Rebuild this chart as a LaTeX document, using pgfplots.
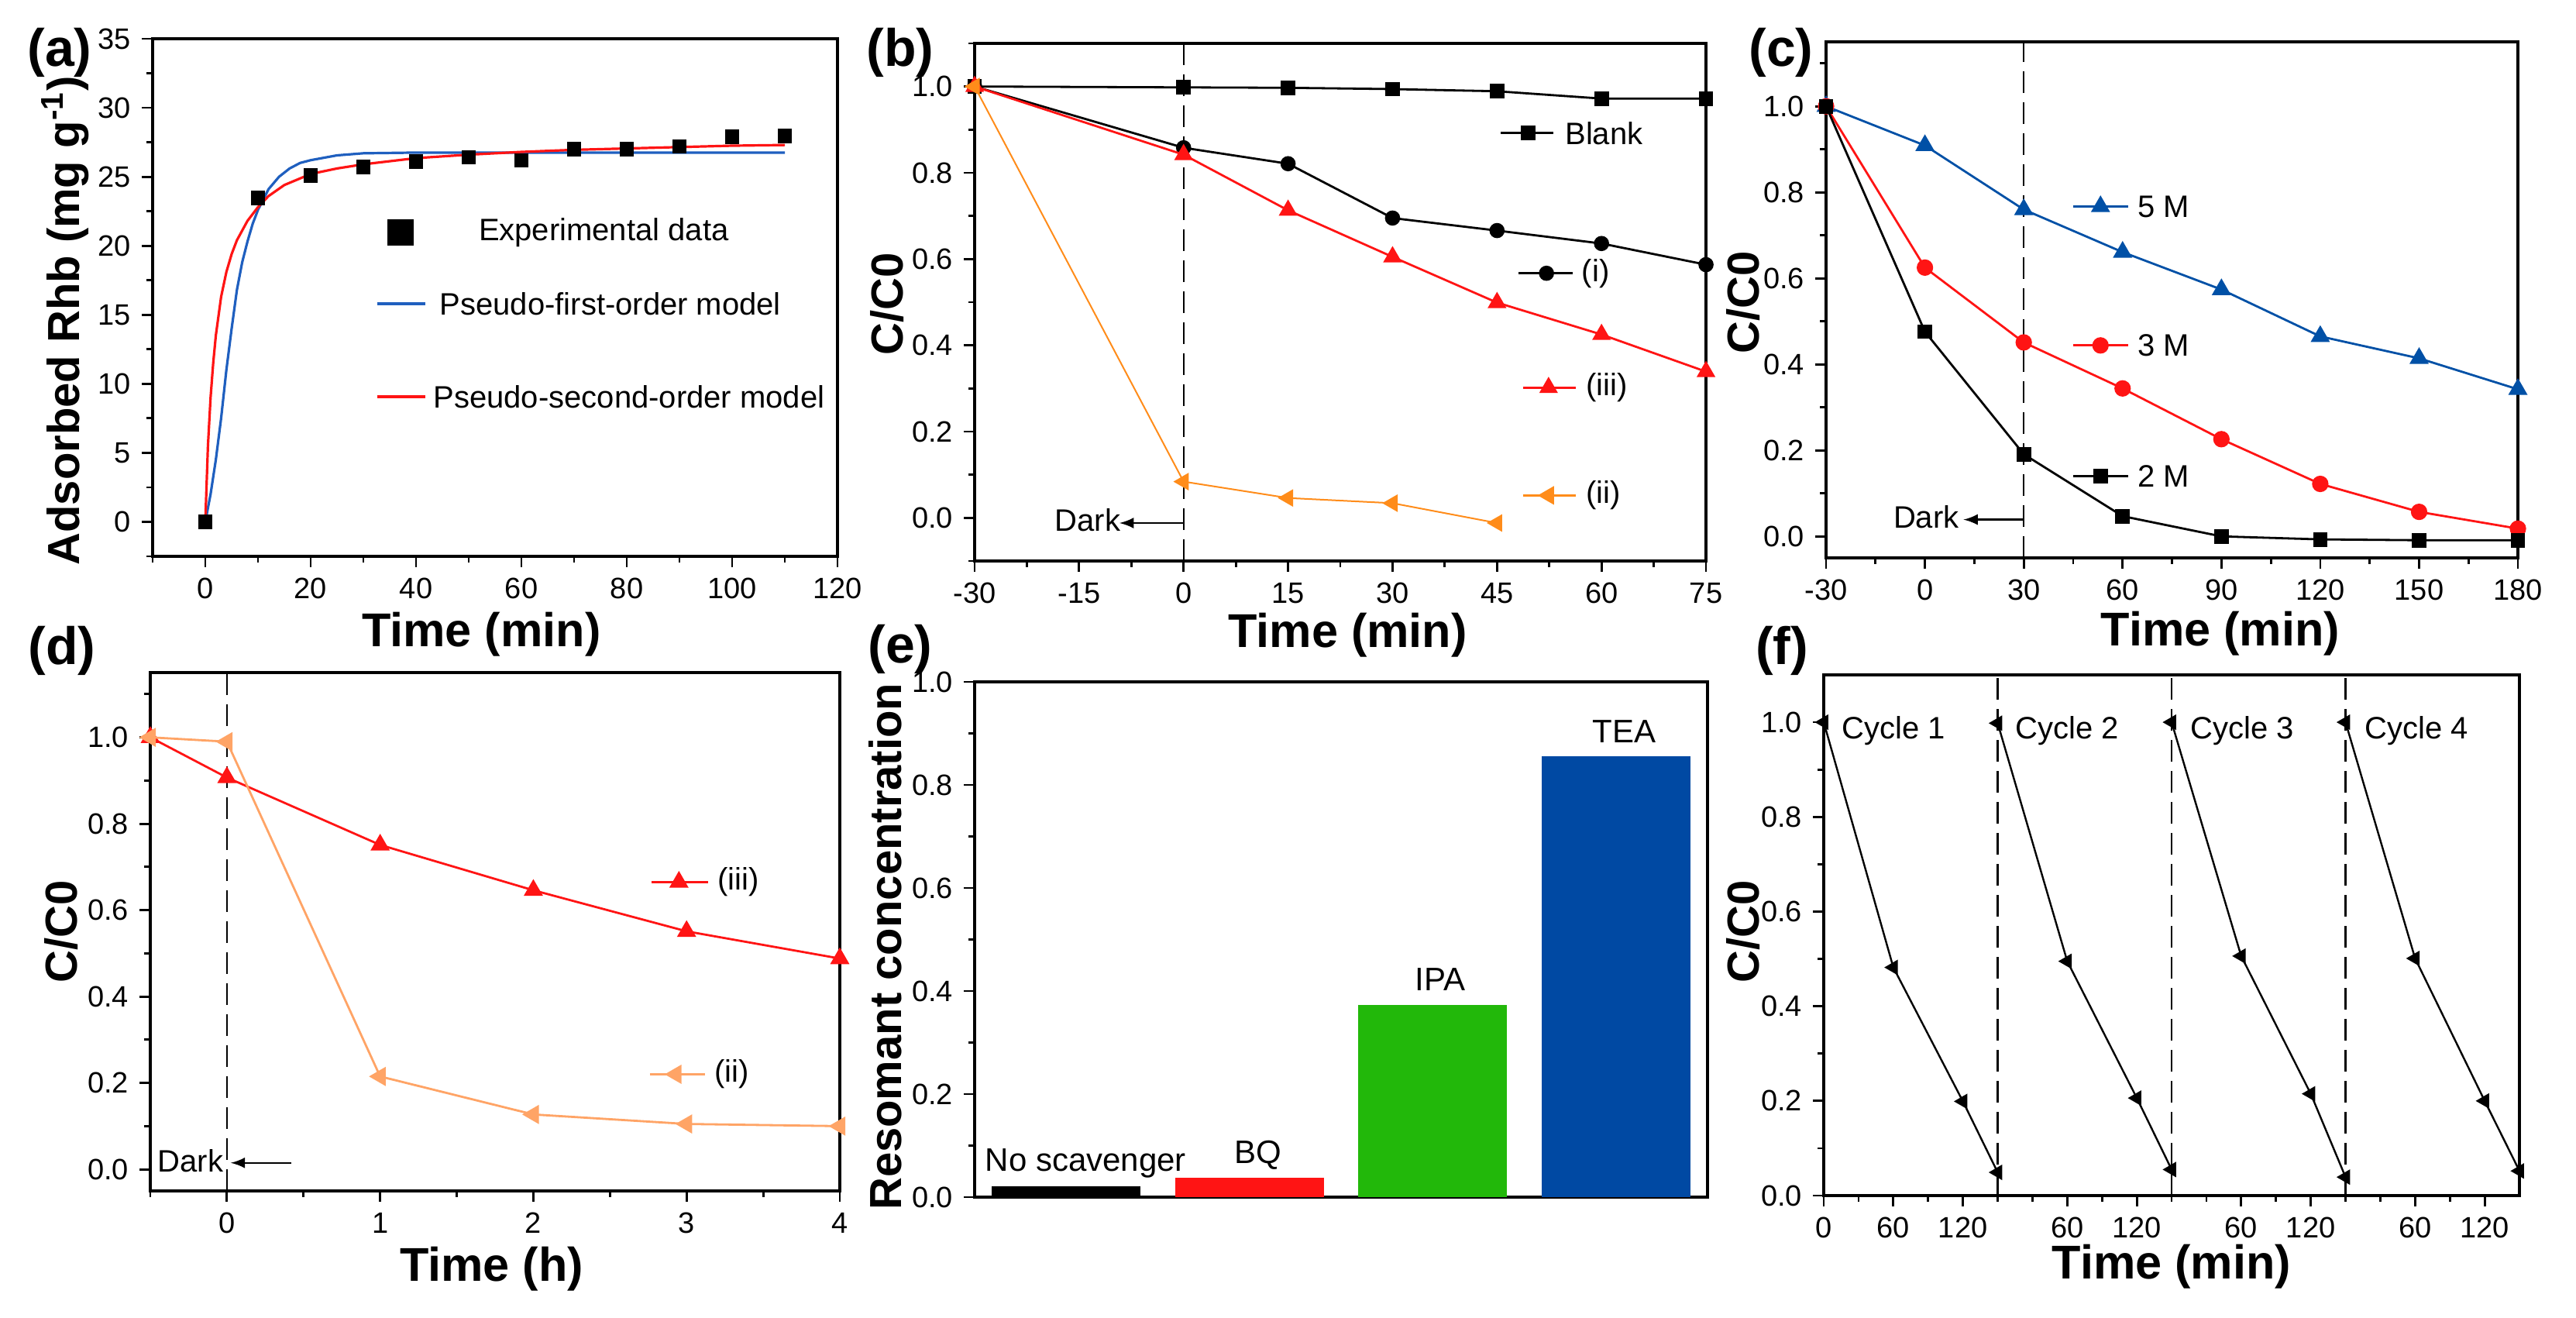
\documentclass[border=0pt]{standalone}
\usepackage{fontspec}
\setmainfont{Liberation Sans}
\usepackage{pgfplots}
\pgfplotsset{compat=1.18}

\definecolor{fitblue}{HTML}{1F5FBF}
\definecolor{myred}{HTML}{FF1414}
\definecolor{orgB}{HTML}{FF8C1A}
\definecolor{orgD}{HTML}{FFA466}
\definecolor{blueC}{HTML}{0050A6}
\definecolor{barG}{HTML}{22B80A}
\definecolor{barB}{HTML}{0049A3}

\newcommand\annfont{\fontsize{10}{12}\selectfont}
\newcommand\panelfont{\fontsize{17}{19}\selectfont\bfseries}

\tikzset{darkline/.style={black, line width=0.6pt, dash pattern=on 7pt off 3pt}}

\pgfplotsset{
  panel/.style={
    scale only axis,
    anchor=south west,
    clip mode=individual,
    axis line style={line width=0.9pt},
    tick align=outside,
    xtick pos=bottom, ytick pos=left,
    major tick length=3.5pt, minor tick length=2pt,
    every tick/.style={black, line width=0.7pt},
    /pgf/number format/assume math mode=true,
    tick label style={font=\fontsize{9.5}{10}\selectfont},
    xlabel style={anchor=center, font=\fontsize{15.3}{17}\selectfont\bfseries},
    ylabel style={anchor=center, font=\fontsize{14.5}{16}\selectfont\bfseries},
  },
  cc/.style={
    ytick={0,0.2,0.4,0.6,0.8,1},
    yticklabel style={/pgf/number format/.cd, fixed, fixed zerofill, precision=1},
  },
}

\begin{document}
\begin{tikzpicture}
\useasboundingbox (0,0) rectangle (831.25pt,425pt);

% (a) adsorption kinetics
\begin{axis}[panel, at={(49.25pt,245.5pt)}, width=221pt, height=167pt,
  xmin=-10, xmax=120, ymin=-2.5, ymax=35,
  xtick={0,20,40,60,80,100,120}, minor xtick={-10,10,30,50,70,90,110},
  ytick={0,5,10,15,20,25,30,35}, minor ytick={-2.5,2.5,7.5,12.5,17.5,22.5,27.5,32.5},
  xlabel={Time (min)}, ylabel={Adsorbed Rhb (mg g\textsuperscript{-1})},
  xlabel style={at={(axis description cs:0.48,-0.15)}},
  ylabel style={at={(axis description cs:-0.128,0.455)}}]
\addplot[fitblue, line width=0.8pt] coordinates {
  (0,0) (1,2) (2,4.5) (3,7.5) (4,11) (5,14) (6,16.8) (7,18.8) (8,20.3) (9,21.6)
  (10,22.6) (12,24.1) (14,25.0) (16,25.6) (18,26.0) (20,26.2) (25,26.55) (30,26.7)
  (40,26.75) (110,26.75)};
\addplot[myred, line width=0.8pt] coordinates {
  (0,0) (0.5,5.5) (1,9) (1.5,11.5) (2,13.5) (3,16.3) (4,18.1) (5,19.4) (6,20.4)
  (8,21.8) (10,22.8) (12,23.6) (15,24.4) (20,25.2) (25,25.6) (30,25.9) (40,26.35)
  (50,26.6) (60,26.8) (70,26.95) (80,27.05) (90,27.15) (100,27.25) (110,27.3)};
\addplot[only marks, mark=square*, mark size=2.1pt, black] coordinates {
  (0,0) (10,23.46) (20,25.1) (30,25.7) (40,26.1) (50,26.4) (60,26.2)
  (70,27.0) (80,27.0) (90,27.2) (100,27.9) (110,27.95)};
% legend
\addplot[only marks, mark=square*, mark size=4pt, black, forget plot] coordinates {(37.06,20.97)};
\addplot[fitblue, line width=0.8pt, forget plot] coordinates {(32.6,15.8) (41.8,15.8)};
\addplot[myred, line width=0.8pt, forget plot] coordinates {(32.6,9.06) (41.8,9.06)};
\node[anchor=west, font=\annfont, inner sep=0pt] at (axis cs:51.8,20.97) {Experimental data};
\node[anchor=west, font=\annfont, inner sep=0pt] at (axis cs:44.4,15.8) {Pseudo-first-order model};
\node[anchor=west, font=\annfont, inner sep=0pt] at (axis cs:43.2,9.06) {Pseudo-second-order model};
\end{axis}

% (b) degradation
\begin{axis}[panel, cc, at={(314.5pt,244pt)}, width=236pt, height=167pt,
  xmin=-30, xmax=75, ymin=-0.1, ymax=1.1,
  xtick={-30,-15,0,15,30,45,60,75}, minor xtick={-22.5,-7.5,7.5,22.5,37.5,52.5,67.5},
  minor ytick={-0.1,0.1,0.3,0.5,0.7,0.9,1.1},
  xlabel={Time (min)}, ylabel={C/C0},
  xlabel style={at={(axis description cs:0.51,-0.144)}},
  ylabel style={at={(axis description cs:-0.12,0.497)}}]
\draw[darkline] (axis cs:0,-0.1) -- (axis cs:0,1.1);
\addplot[black, line width=0.7pt, mark=square*, mark size=2pt] coordinates {
  (-30,1.0) (0,0.998) (15,0.997) (30,0.994) (45,0.989) (60,0.972) (75,0.972)};
\addplot[black, line width=0.7pt, mark=*, mark size=2.1pt] coordinates {
  (-30,1.0) (0,0.858) (15,0.821) (30,0.695) (45,0.666) (60,0.636) (75,0.587)};
\addplot[myred, line width=0.7pt, mark=triangle*, mark size=2.8pt] coordinates {
  (-30,1.0) (0,0.842) (15,0.713) (30,0.605) (45,0.499) (60,0.425) (75,0.339)};
\addplot[orgB, line width=0.5pt, mark=triangle*, mark size=2.8pt, mark options={rotate=90}] coordinates {
  (-30,1.0) (0,0.084) (15,0.046) (30,0.034) (45,-0.012)};
% labels
\addplot[black, line width=0.7pt, mark=square*, mark size=2pt, mark indices={2}, forget plot] coordinates {(45.5,0.892) (49.5,0.892) (53.1,0.892)};
\addplot[black, line width=0.7pt, mark=*, mark size=2.1pt, mark indices={2}, forget plot] coordinates {(48.1,0.567) (52.1,0.567) (55.9,0.567)};
\addplot[myred, line width=0.7pt, mark=triangle*, mark size=2.8pt, mark indices={2}, forget plot] coordinates {(48.7,0.302) (52.4,0.302) (56.3,0.302)};
\addplot[orgB, line width=0.7pt, mark=triangle*, mark size=2.8pt, mark options={rotate=90}, mark indices={2}, forget plot] coordinates {(48.7,0.052) (52.4,0.052) (56.3,0.052)};
\node[anchor=west, font=\annfont, inner sep=0pt] at (axis cs:54.7,0.892) {Blank};
\node[anchor=west, font=\annfont, inner sep=0pt] at (axis cs:57.1,0.567) {(i)};
\node[anchor=west, font=\annfont, inner sep=0pt] at (axis cs:57.7,0.302) {(iii)};
\node[anchor=west, font=\annfont, inner sep=0pt] at (axis cs:57.7,0.052) {(ii)};
\draw[->, >=latex, line width=0.6pt] (axis cs:0,-0.012) -- (axis cs:-9.2,-0.012);
\node[anchor=east, font=\annfont, inner sep=0pt] at (axis cs:-9.0,-0.005) {Dark};
\end{axis}

% (c) concentration
\begin{axis}[panel, cc, at={(589.25pt,245pt)}, width=223.25pt, height=166.5pt,
  xmin=-30, xmax=180, ymin=-0.05, ymax=1.15,
  xtick={-30,0,30,60,90,120,150,180}, minor xtick={-15,15,45,75,105,135,165},
  minor ytick={0.1,0.3,0.5,0.7,0.9,1.1},
  xlabel={Time (min)}, ylabel={C/C0},
  xlabel style={at={(axis description cs:0.57,-0.146)}},
  ylabel style={at={(axis description cs:-0.12,0.495)}}]
\draw[darkline] (axis cs:30,-0.05) -- (axis cs:30,1.15);
\addplot[blueC, line width=0.7pt, mark=triangle*, mark size=2.9pt] coordinates {
  (-30,1.0) (0,0.909) (30,0.760) (60,0.661) (90,0.574) (120,0.465) (150,0.414) (180,0.342)};
\addplot[myred, line width=0.7pt, mark=*, mark size=2.3pt] coordinates {
  (-30,1.0) (0,0.625) (30,0.451) (60,0.344) (90,0.226) (120,0.122) (150,0.057) (180,0.018)};
\addplot[black, line width=0.7pt, mark=square*, mark size=2pt] coordinates {
  (-30,1.0) (0,0.476) (30,0.191) (60,0.047) (90,0.0) (120,-0.007) (150,-0.009) (180,-0.009)};
\addplot[blueC, line width=0.7pt, mark=triangle*, mark size=2.9pt, mark indices={2}, forget plot] coordinates {(44.9,0.767) (53.3,0.767) (61.8,0.767)};
\addplot[myred, line width=0.7pt, mark=*, mark size=2.3pt, mark indices={2}, forget plot] coordinates {(44.9,0.444) (53.3,0.444) (61.8,0.444)};
\addplot[black, line width=0.7pt, mark=square*, mark size=2pt, mark indices={2}, forget plot] coordinates {(44.9,0.140) (53.3,0.140) (61.8,0.140)};
\node[anchor=west, font=\annfont, inner sep=0pt] at (axis cs:64.4,0.767) {5 M};
\node[anchor=west, font=\annfont, inner sep=0pt] at (axis cs:64.4,0.444) {3 M};
\node[anchor=west, font=\annfont, inner sep=0pt] at (axis cs:64.4,0.140) {2 M};
\draw[->, >=latex, line width=0.6pt] (axis cs:30,0.039) -- (axis cs:11.7,0.039);
\node[anchor=east, font=\annfont, inner sep=0pt] at (axis cs:10.5,0.045) {Dark};
\end{axis}

% (d) long-time degradation
\begin{axis}[panel, cc, at={(48.5pt,40.75pt)}, width=222.5pt, height=167.25pt,
  xmin=-0.5, xmax=4, ymin=-0.05, ymax=1.15,
  xtick={0,1,2,3,4}, minor xtick={-0.5,0.5,1.5,2.5,3.5},
  minor ytick={0.1,0.3,0.5,0.7,0.9,1.1},
  xlabel={Time (h)}, ylabel={C/C0},
  xlabel style={at={(axis description cs:0.495,-0.15)}},
  ylabel style={at={(axis description cs:-0.129,0.5)}}]
\draw[darkline] (axis cs:0,-0.05) -- (axis cs:0,1.15);
\addplot[myred, line width=0.7pt, mark=triangle*, mark size=2.9pt] coordinates {
  (-0.5,1.0) (0,0.907) (1,0.751) (2,0.646) (3,0.551) (4,0.488)};
\addplot[orgD, line width=0.7pt, mark=triangle*, mark size=2.9pt, mark options={rotate=90}] coordinates {
  (-0.5,1.0) (0,0.990) (1,0.215) (2,0.127) (3,0.105) (4,0.100)};
\addplot[myred, line width=0.7pt, mark=triangle*, mark size=2.9pt, mark indices={2}, forget plot] coordinates {(2.77,0.665) (2.95,0.665) (3.14,0.665)};
\addplot[orgD, line width=0.7pt, mark=triangle*, mark size=2.9pt, mark options={rotate=90}, mark indices={2}, forget plot] coordinates {(2.76,0.220) (2.93,0.220) (3.12,0.220)};
\node[anchor=west, font=\annfont, inner sep=0pt] at (axis cs:3.2,0.665) {(iii)};
\node[anchor=west, font=\annfont, inner sep=0pt] at (axis cs:3.18,0.220) {(ii)};
\draw[->, >=latex, line width=0.6pt] (axis cs:0.42,0.015) -- (axis cs:0.025,0.015);
\node[anchor=east, font=\annfont, inner sep=0pt] at (axis cs:-0.02,0.02) {Dark};
\end{axis}

% (e) scavengers
\begin{axis}[panel, cc, at={(314.5pt,38.75pt)}, width=236.5pt, height=166.25pt,
  xmin=-0.5, xmax=3.5, ymin=0, ymax=1,
  xtick=\empty, minor ytick={0.1,0.3,0.5,0.7,0.9},
  ybar, bar width=0.81, bar shift=0pt,
  ylabel={Resomant concentration},
  ylabel style={at={(axis description cs:-0.122,0.486)}}]
\addplot[fill=black, draw=none] coordinates {(0,0.0205)};
\addplot[fill=myred, draw=none] coordinates {(1,0.037)};
\addplot[fill=barG, draw=none] coordinates {(2,0.373)};
\addplot[fill=barB, draw=none] coordinates {(3,0.855)};
\node[font=\fontsize{10.5}{12}\selectfont, inner sep=0pt] at (axis cs:0.106,0.066) {No scavenger};
\node[font=\fontsize{10.5}{12}\selectfont, inner sep=0pt] at (axis cs:1.045,0.082) {BQ};
\node[font=\fontsize{10.5}{12}\selectfont, inner sep=0pt] at (axis cs:2.04,0.422) {IPA};
\node[font=\fontsize{10.5}{12}\selectfont, inner sep=0pt] at (axis cs:3.045,0.904) {TEA};
\end{axis}

% (f) cycles
\begin{axis}[panel, cc, at={(588.5pt,39.25pt)}, width=224.5pt, height=168pt,
  xmin=0, xmax=600, ymin=0, ymax=1.1,
  xtick={0,60,120,210,270,360,420,510,570},
  xticklabels={0,60,120,60,120,60,120,60,120},
  minor xtick={30,90,150,180,240,300,330,390,450,480,540},
  minor ytick={0.1,0.3,0.5,0.7,0.9},
  xlabel={Time (min)}, ylabel={C/C0},
  xlabel style={at={(axis description cs:0.5,-0.137)}},
  ylabel style={at={(axis description cs:-0.116,0.507)}}]
\draw[darkline] (axis cs:150,0) -- (axis cs:150,1.1);
\draw[darkline] (axis cs:300,0) -- (axis cs:300,1.1);
\draw[darkline] (axis cs:450,0) -- (axis cs:450,1.1);
\addplot[black, line width=0.6pt, mark=triangle*, mark size=2.3pt, mark options={rotate=90}] coordinates {
  (0,1.0) (60,0.482) (120,0.199) (150,0.049)};
\addplot[black, line width=0.6pt, mark=triangle*, mark size=2.3pt, mark options={rotate=90}] coordinates {
  (150,0.998) (210,0.495) (270,0.206) (300,0.055)};
\addplot[black, line width=0.6pt, mark=triangle*, mark size=2.3pt, mark options={rotate=90}] coordinates {
  (300,1.0) (360,0.506) (420,0.215) (450,0.039)};
\addplot[black, line width=0.6pt, mark=triangle*, mark size=2.3pt, mark options={rotate=90}] coordinates {
  (450,1.0) (510,0.501) (570,0.200) (600,0.052)};
\node[anchor=west, font=\annfont, inner sep=0pt] at (axis cs:15.4,0.982) {Cycle 1};
\node[anchor=west, font=\annfont, inner sep=0pt] at (axis cs:165,0.982) {Cycle 2};
\node[anchor=west, font=\annfont, inner sep=0pt] at (axis cs:316,0.982) {Cycle 3};
\node[anchor=west, font=\annfont, inner sep=0pt] at (axis cs:466,0.982) {Cycle 4};
\end{axis}

% panel letters
\node[font=\panelfont, inner sep=0pt] at (19.25pt,408pt) {(a)};
\node[font=\panelfont, inner sep=0pt] at (290.5pt,408pt) {(b)};
\node[font=\panelfont, inner sep=0pt] at (574.75pt,408pt) {(c)};
\node[font=\panelfont, inner sep=0pt] at (20pt,215pt) {(d)};
\node[font=\panelfont, inner sep=0pt] at (290.5pt,215.5pt) {(e)};
\node[font=\panelfont, inner sep=0pt] at (575pt,215pt) {(f)};
\end{tikzpicture}
\end{document}
